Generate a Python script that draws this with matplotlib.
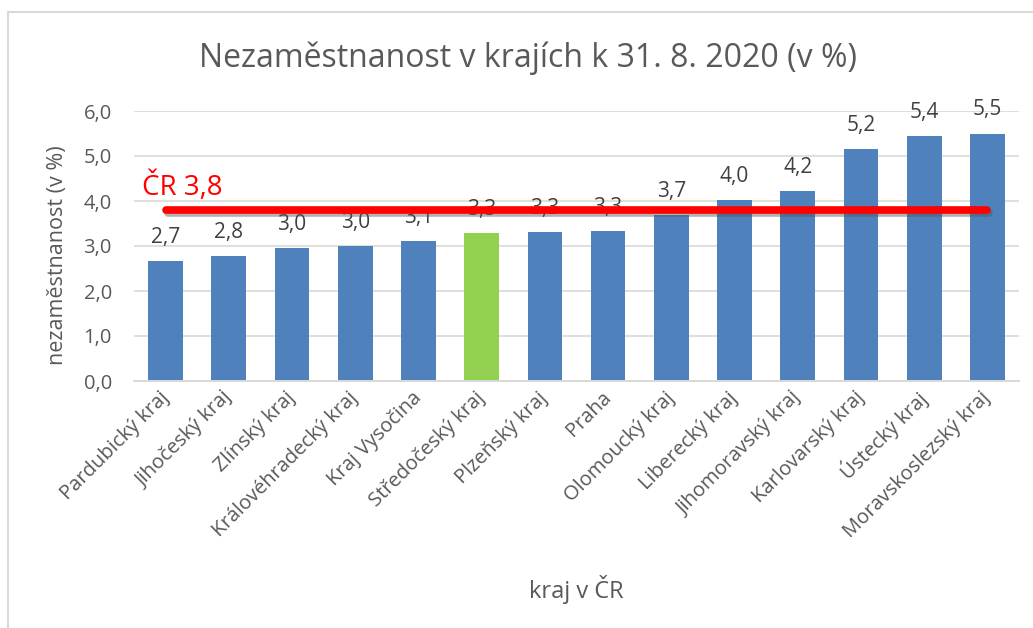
"""
Nezaměstnanost v krajích k 31. 8. 2020 – sloupcový graf s průměrem ČR.
"""

import matplotlib

matplotlib.use("Agg")
import matplotlib.pyplot as plt
import matplotlib.patheffects as pe
from matplotlib.lines import Line2D

# Data
REGIONS = [
    "Pardubický kraj",
    "Jihočeský kraj",
    "Zlínský kraj",
    "Královéhradecký kraj",
    "Kraj Vysočina",
    "Středočeský kraj",
    "Plzeňský kraj",
    "Praha",
    "Olomoucký kraj",
    "Liberecký kraj",
    "Jihomoravský kraj",
    "Karlovarský kraj",
    "Ústecký kraj",
    "Moravskoslezský kraj",
]
RATES = [2.66, 2.77, 2.96, 2.99, 3.12, 3.29, 3.31, 3.34, 3.68, 4.02, 4.22, 5.16, 5.44, 5.50]
HIGHLIGHT = "Středočeský kraj"
CR_AVG = 3.8
Y_TICKS = [0, 1, 2, 3, 4, 5, 6]

# Styles
BLUE = "#4f81bd"
GREEN = "#92d050"
TEXT = "#595959"
LABEL = "#404040"
GRID = "#d9d9d9"
FONT = "Open Sans"

plt.rcParams["font.family"] = [FONT, "DejaVu Sans"]


def fmt(v: float) -> str:
    """Czech decimal comma."""
    return f"{v:.1f}".replace(".", ",")


def main() -> None:
    fig = plt.figure(figsize=(10.33, 6.28), dpi=100)
    ax = fig.add_axes([134 / 1033, 1 - 381 / 628, 885 / 1033, 270 / 628])

    x = list(range(len(REGIONS)))
    colors = [GREEN if r == HIGHLIGHT else BLUE for r in REGIONS]
    bars = ax.bar(x, RATES, width=0.55, color=colors, zorder=2)

    # Value labels above bars.
    for bar, v in zip(bars, RATES):
        ax.annotate(
            fmt(v),
            (bar.get_x() + bar.get_width() / 2, bar.get_height()),
            xytext=(0, 13),
            textcoords="offset points",
            ha="center",
            va="baseline",
            fontsize=15,
            color=LABEL,
            zorder=3,
        )

    # Czech average line with shadow.
    ax.plot(
        [x[0], x[-1]],
        [CR_AVG, CR_AVG],
        color="#ff0000",
        lw=5.5,
        solid_capstyle="round",
        zorder=4,
        path_effects=[
            pe.SimpleLineShadow(offset=(1.5, -2.5), shadow_color="#555555", alpha=0.45),
            pe.Normal(),
        ],
    )
    ax.text(x[0] - 0.38, 4.13, f"ČR {fmt(CR_AVG)}", color="#ff0000", fontsize=20,
            ha="left", va="baseline", zorder=5)

    ax.set_xlim(-0.5, len(REGIONS) - 0.5)
    ax.set_ylim(0, 6)
    ax.set_yticks(Y_TICKS)
    ax.set_yticklabels([fmt(t) for t in Y_TICKS])
    ax.set_xticks(x)
    ax.set_xticklabels(REGIONS, rotation=45, ha="right", va="center",
                       rotation_mode="anchor")
    ax.tick_params(axis="both", length=0, colors=TEXT, labelsize=14.5)
    ax.tick_params(axis="y", pad=16)
    ax.tick_params(axis="x", pad=10)
    ax.yaxis.grid(True, color=GRID, lw=1.2, zorder=0)
    ax.set_axisbelow(True)
    for side in ["left", "right", "top"]:
        ax.spines[side].set_visible(False)
    ax.spines["bottom"].set_color(GRID)
    ax.spines["bottom"].set_linewidth(1.4)

    fig.text(528 / 1033, 1 - 58 / 628, "Nezaměstnanost v krajích k 31. 8. 2020 (v %)",
             ha="center", va="center", fontsize=23, color=TEXT)
    fig.text(57 / 1033, 1 - 255 / 628, "nezaměstnanost (v %)", rotation=90,
             ha="center", va="center", fontsize=15.5, color=TEXT)
    fig.text(576 / 1033, 1 - 590 / 628, "kraj v ČR", ha="center", va="center",
             fontsize=17, color=TEXT)

    # Chart area border (left and top edges visible).
    fig.add_artist(Line2D([8 / 1033, 8 / 1033], [0, 1 - 12 / 628],
                          transform=fig.transFigure, color=GRID, lw=1.5))
    fig.add_artist(Line2D([8 / 1033, 1], [1 - 12 / 628, 1 - 12 / 628],
                          transform=fig.transFigure, color=GRID, lw=1.5))

    fig.savefig("out.png", dpi=100)
    plt.close(fig)


if __name__ == "__main__":
    main()
